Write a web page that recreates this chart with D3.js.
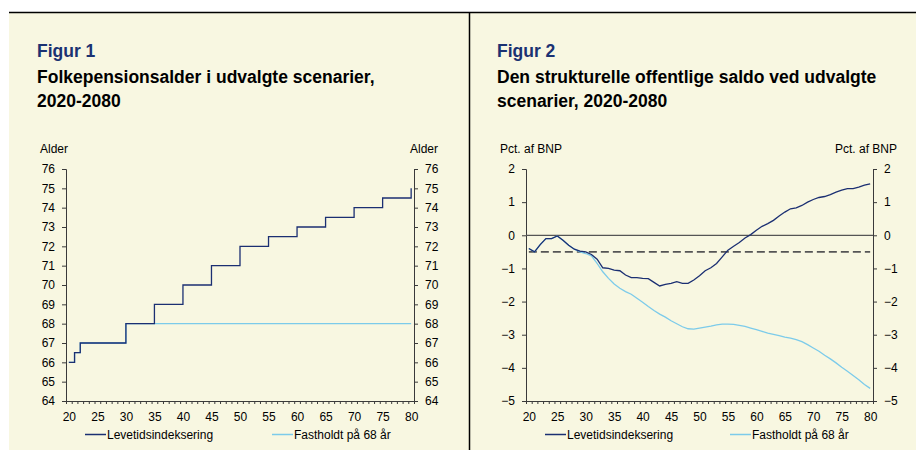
<!DOCTYPE html>
<html><head><meta charset="utf-8">
<script src="https://cdn.jsdelivr.net/npm/d3@7"></script>
<style>
html,body{margin:0;padding:0;background:#fff;}
svg{display:block;font-family:"Liberation Sans",Arial,sans-serif;}
</style></head>
<body>
<svg id="c" width="916" height="450"></svg>
<script>
// ---- data ----
const years = d3.range(20, 81);
const xTickLabels = [20,25,30,35,40,45,50,55,60,65,70,75,80];
const ageTicks = [64,65,66,67,68,69,70,71,72,73,74,75,76];
const balTicks = [-5,-4,-3,-2,-1,0,1,2];
// Figur 1: pension age (value applies from that year)
const ageLevetid = [66,66.5,67,67,67,67,67,67,67,67,68,68,68,68,68,69,69,69,69,69,70,70,70,70,70,71,71,71,71,71,72,72,72,72,72,72.5,72.5,72.5,72.5,72.5,73,73,73,73,73,73.5,73.5,73.5,73.5,73.5,74,74,74,74,74,74.5,74.5,74.5,74.5,74.5,75];
const ageFast = [66,66.5,67,67,67,67,67,67,67,67,68,68,68,68,68,68,68,68,68,68,68,68,68,68,68,68,68,68,68,68,68,68,68,68,68,68,68,68,68,68,68,68,68,68,68,68,68,68,68,68,68,68,68,68,68,68,68,68,68,68,68];
// Figur 2: structural balance, pct. of GDP
const balLevetid = [-0.40,-0.50,-0.28,-0.10,-0.10,-0.02,-0.15,-0.30,-0.42,-0.48,-0.50,-0.58,-0.72,-0.98,-1.00,-1.05,-1.07,-1.20,-1.28,-1.28,-1.30,-1.31,-1.42,-1.53,-1.48,-1.45,-1.40,-1.45,-1.45,-1.35,-1.22,-1.07,-0.98,-0.85,-0.65,-0.45,-0.33,-0.22,-0.08,0.02,0.15,0.27,0.35,0.45,0.58,0.70,0.80,0.83,0.90,1.00,1.08,1.14,1.17,1.23,1.30,1.36,1.41,1.41,1.45,1.51,1.55];
const balFast = [-0.40,-0.50,-0.28,-0.10,-0.10,-0.02,-0.15,-0.30,-0.42,-0.50,-0.55,-0.62,-0.85,-1.10,-1.30,-1.47,-1.60,-1.70,-1.78,-1.90,-2.02,-2.15,-2.27,-2.38,-2.47,-2.58,-2.67,-2.76,-2.82,-2.83,-2.80,-2.77,-2.74,-2.70,-2.68,-2.68,-2.69,-2.72,-2.75,-2.80,-2.85,-2.90,-2.95,-2.99,-3.03,-3.07,-3.10,-3.15,-3.21,-3.30,-3.40,-3.50,-3.62,-3.73,-3.85,-3.98,-4.10,-4.23,-4.36,-4.50,-4.62];
const refLine = -0.5;
const seriesNames = ["Levetidsindeksering","Fastholdt på 68 år"];
const colors = ["#1B2F72","#7CCBEA"];

const svg = d3.select("#c");
const BG = "#F8F7E1", AX = "#3a3a3a";

// background and frame
svg.append("rect").attr("x",9).attr("y",12).attr("width",907).attr("height",438).attr("fill",BG);
svg.append("line").attr("x1",9).attr("x2",916).attr("y1",12.5).attr("y2",12.5).attr("stroke","#000").attr("stroke-width",1.5);
svg.append("line").attr("x1",469.5).attr("x2",469.5).attr("y1",12).attr("y2",450).attr("stroke","#000").attr("stroke-width",1.5);

function panel(o){
  const g = svg.append("g");
  g.append("text").attr("x",o.tx).attr("y",57).attr("fill","#1B3272").attr("font-size",17.5).attr("font-weight","bold").text(o.fig);
  o.title.forEach((t,i)=>g.append("text").attr("x",o.tx).attr("y",83+i*23.5).attr("fill","#000").attr("font-size",17.5).attr("font-weight","bold").text(t));
  g.append("text").attr("x",o.tx+3).attr("y",153).attr("font-size",12).attr("fill","#000").text(o.unit);
  g.append("text").attr("x",o.ux).attr("y",153).attr("font-size",12).attr("fill","#000").attr("text-anchor","end").text(o.unit);

  const x = d3.scaleLinear().domain([19.5,80.5]).range([o.x0,o.x1]);
  const y = d3.scaleLinear().domain(o.ydom).range([401,169]);

  // axes
  const yl = g.append("g").attr("transform",`translate(${o.x0},0)`).call(d3.axisLeft(y).tickValues(o.yticks).tickSize(4).tickPadding(7).tickFormat(d3.format("d")));
  const yr = g.append("g").attr("transform",`translate(${o.x1},0)`).call(d3.axisRight(y).tickValues(o.yticks).tickSize(4).tickPadding(7).tickFormat(d3.format("d")));
  const xb = g.append("g").attr("transform",`translate(0,401)`).call(d3.axisBottom(x).tickValues(d3.range(19.5,81,1)).tickSize(3).tickFormat(""));
  const xl = g.append("g").attr("transform",`translate(0,401)`).call(d3.axisBottom(x).tickValues(xTickLabels).tickSize(0).tickPadding(11));
  [yl,yr,xb,xl].forEach(a=>{
    a.select(".domain").attr("stroke",AX);
    a.selectAll(".tick line").attr("stroke",AX);
    a.selectAll("text").attr("font-size",12).attr("fill","#000").attr("font-family","Liberation Sans, Arial, sans-serif");
  });
  xl.select(".domain").remove();
  o.extra && o.extra(g,x,y);

  const line = d3.line().x((d,i)=>x(years[i])).y(d=>y(d)).curve(o.curve);
  g.append("path").datum(o.s2).attr("d",line).attr("fill","none").attr("stroke",colors[1]).attr("stroke-width",1.3);
  g.append("path").datum(o.s1).attr("d",line).attr("fill","none").attr("stroke",colors[0]).attr("stroke-width",1.3);

  // legend
  const lg = [[o.lx[0],seriesNames[0],colors[0]],[o.lx[1],seriesNames[1],colors[1]]];
  lg.forEach(([lx,name,c])=>{
    g.append("line").attr("x1",lx).attr("x2",lx+21).attr("y1",434.5).attr("y2",434.5).attr("stroke",c).attr("stroke-width",1.5);
    g.append("text").attr("x",lx+22).attr("y",439).attr("font-size",12).attr("fill","#000").text(name);
  });
}

panel({fig:"Figur 1", title:["Folkepensionsalder i udvalgte scenarier,","2020-2080"], tx:37, unit:"Alder", ux:438,
  x0:66, x1:414, ydom:[64,76], yticks:ageTicks, s1:ageLevetid, s2:ageFast, curve:d3.curveStepAfter, lx:[85,272]});

panel({fig:"Figur 2", title:["Den strukturelle offentlige saldo ved udvalgte","scenarier, 2020-2080"], tx:497, unit:"Pct. af BNP", ux:897,
  x0:526, x1:873, ydom:[-5,2], yticks:balTicks, s1:balLevetid, s2:balFast, curve:d3.curveLinear, lx:[545,730],
  extra:(g,x,y)=>{
    g.append("line").attr("x1",x(19.5)).attr("x2",x(80.5)).attr("y1",y(0)).attr("y2",y(0)).attr("stroke","#555").attr("stroke-width",1.3);
    g.append("line").attr("x1",x(20)).attr("x2",x(80)).attr("y1",y(refLine)).attr("y2",y(refLine)).attr("stroke","#555").attr("stroke-width",1.6).attr("stroke-dasharray","8,4");
  }});
</script>
</body></html>
